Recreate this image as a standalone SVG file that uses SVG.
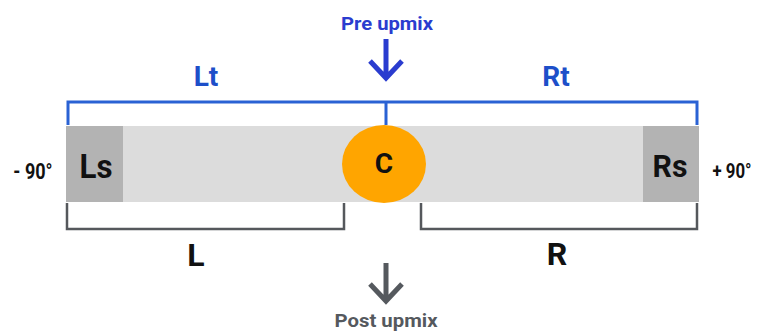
<svg xmlns="http://www.w3.org/2000/svg" width="758" height="333" viewBox="0 0 758 333">
  <defs>
    <style>
      text { font-family: Roboto, "Liberation Sans", Arial, sans-serif; font-weight: bold; text-anchor: middle; }
      .blue { fill: #1d4fc9; }
      .dark { fill: #111111; }
      .grey { fill: #55595e; }
      .bracket-top { fill: none; stroke: #2a62d4; stroke-width: 3; }
      .bracket-bot { fill: none; stroke: #55585c; stroke-width: 2.5; }
      .arrow-pre { fill: none; stroke: #2a3ccf; stroke-width: 5; }
      .arrow-post { fill: none; stroke: #55595e; stroke-width: 5; }
    </style>
  </defs>

  <!-- channel bar -->
  <g id="bar">
    <rect x="66" y="126" width="633" height="76" fill="#dcdcdc"/>
  </g>
  <g id="node-ls">
    <rect x="66" y="126" width="57" height="76" fill="#b3b3b3"/>
    <text class="dark" x="96" y="178" font-size="33" textLength="33" lengthAdjust="spacingAndGlyphs">Ls</text>
  </g>
  <g id="node-rs">
    <rect x="643" y="126" width="56" height="76" fill="#b3b3b3"/>
    <text class="dark" x="670" y="177" font-size="31" textLength="35" lengthAdjust="spacingAndGlyphs">Rs</text>
  </g>
  <g id="node-c">
    <ellipse cx="384" cy="164" rx="42" ry="39" fill="#ffa500"/>
    <text class="dark" x="384" y="173" font-size="28">C</text>
  </g>

  <!-- angle labels (horizontally condensed) -->
  <g id="label-left">
    <text class="dark" transform="translate(33,179) scale(0.82,1)" font-size="22">- 90°</text>
  </g>
  <g id="label-right">
    <text class="dark" transform="translate(732,178) scale(0.8,1)" font-size="21">+ 90°</text>
  </g>

  <!-- connectors: brackets and arrows -->
  <g id="connectors">
    <path class="bracket-top" d="M68,125 V102 H697 V125 M386,102 V125"/>
    <path class="bracket-bot" d="M67,203 V229 H344 V203"/>
    <path class="bracket-bot" d="M421,203 V229 H697 V203"/>
    <path class="arrow-pre" d="M386,39 V78 M370,61 L386,78 L402,61"/>
    <path class="arrow-post" d="M386,263 V301 M370,284 L386,301 L402,284"/>
  </g>

  <!-- group labels -->
  <g id="label-lt">
    <text class="blue" x="206" y="86" font-size="28">Lt</text>
  </g>
  <g id="label-rt">
    <text class="blue" x="556" y="86" font-size="28">Rt</text>
  </g>
  <g id="label-l">
    <text class="dark" x="196" y="266" font-size="32">L</text>
  </g>
  <g id="label-r">
    <text class="dark" x="557" y="265" font-size="32">R</text>
  </g>
  <g id="label-pre">
    <text x="387" y="30" font-size="18" fill="#2a3ccf" textLength="92" lengthAdjust="spacingAndGlyphs">Pre upmix</text>
  </g>
  <g id="label-post">
    <text class="grey" x="386" y="327" font-size="19" textLength="103" lengthAdjust="spacingAndGlyphs">Post upmix</text>
  </g>
</svg>
